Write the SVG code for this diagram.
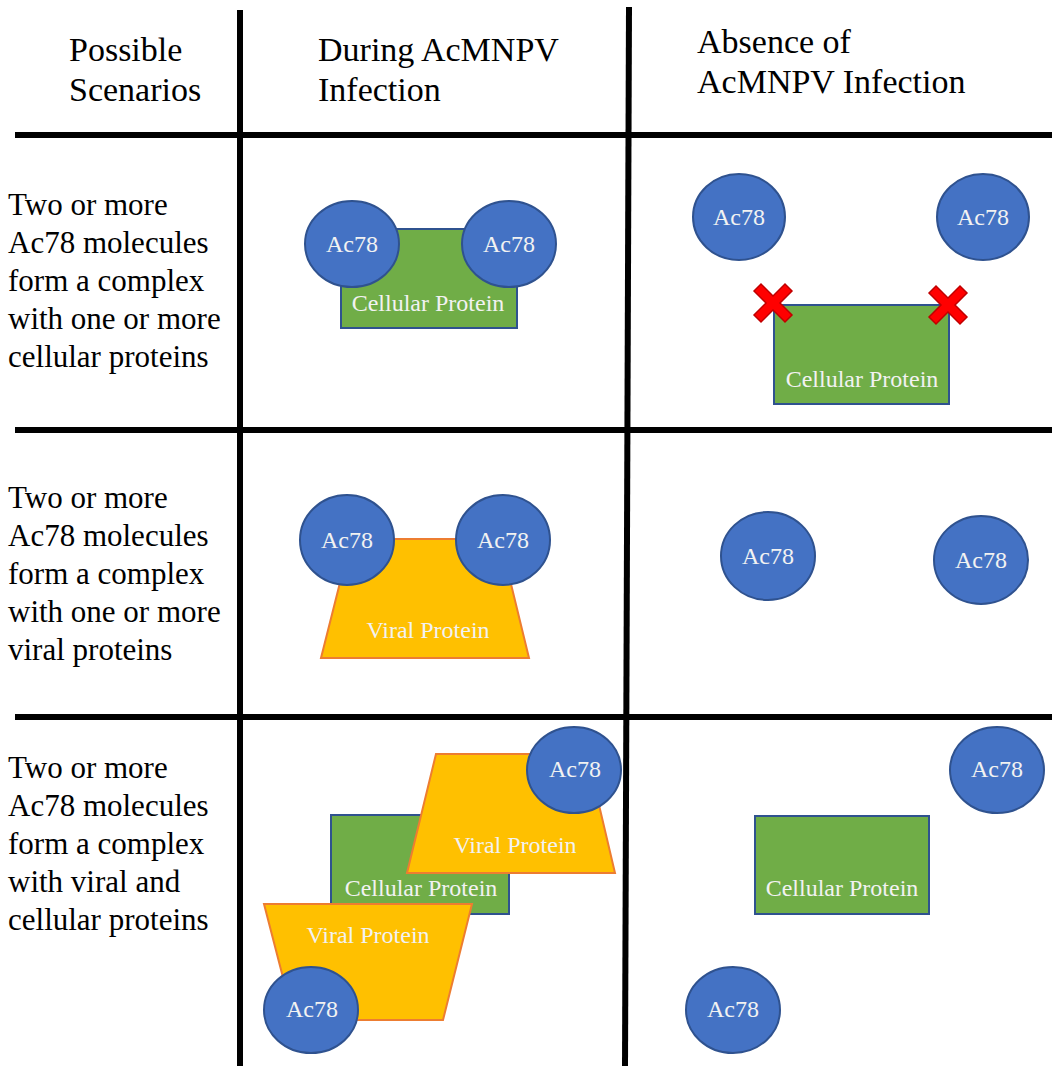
<svg xmlns="http://www.w3.org/2000/svg" width="1052" height="1066" viewBox="0 0 1052 1066" font-family="Liberation Serif, Times New Roman, serif">
<style>
.hdr{font-size:34px;fill:#000}
.lbl{font-size:31px;fill:#000}
.grid{stroke:#000;stroke-width:6;fill:none}
.ac{fill:#4472C4;stroke:#2F528F;stroke-width:2}
.cell{fill:#70AD47;stroke:#2F528F;stroke-width:2}
.viral{fill:#FFC000;stroke:#ED7D31;stroke-width:2}
.in{font-size:24px;fill:#F2F2F2;text-anchor:middle}
.xmark{fill:#FF0000;stroke:#C00000;stroke-width:1.5}
</style>
<defs>
<polygon id="x" points="-19,-12 -12,-19 0,-7 12,-19 19,-12 7,0 19,12 12,19 0,7 -12,19 -19,12 -7,0"/>
</defs>
<rect width="1052" height="1066" fill="#fff"/>
<g id="connectors">
<line class="grid" x1="15" y1="135" x2="1052" y2="135"/>
<line class="grid" x1="15" y1="430" x2="1052" y2="430"/>
<line class="grid" x1="15" y1="717" x2="1052" y2="717"/>
<line class="grid" x1="240" y1="10" x2="240" y2="1066"/>
<line class="grid" x1="629" y1="7" x2="625" y2="1066"/>
</g>
<g id="headers">
<text class="hdr" x="69" y="61" font-family="Liberation Serif">Possible</text>
<text class="hdr" x="69" y="101" font-family="Liberation Serif">Scenarios</text>
<text class="hdr" x="318" y="61" font-family="Liberation Serif">During AcMNPV</text>
<text class="hdr" x="318" y="101" font-family="Liberation Serif">Infection</text>
<text class="hdr" x="697" y="53" font-family="Liberation Serif">Absence of</text>
<text class="hdr" x="697" y="93" font-family="Liberation Serif">AcMNPV Infection</text>
</g>
<g id="row1-label">
<text class="lbl" x="8" y="215">Two or more</text>
<text class="lbl" x="8" y="253">Ac78 molecules</text>
<text class="lbl" x="8" y="291">form a complex</text>
<text class="lbl" x="8" y="329">with one or more</text>
<text class="lbl" x="8" y="367">cellular proteins</text>
</g>
<g id="row2-label">
<text class="lbl" x="8" y="508">Two or more</text>
<text class="lbl" x="8" y="546">Ac78 molecules</text>
<text class="lbl" x="8" y="584">form a complex</text>
<text class="lbl" x="8" y="622">with one or more</text>
<text class="lbl" x="8" y="660">viral proteins</text>
</g>
<g id="row3-label">
<text class="lbl" x="8" y="778">Two or more</text>
<text class="lbl" x="8" y="816">Ac78 molecules</text>
<text class="lbl" x="8" y="854">form a complex</text>
<text class="lbl" x="8" y="892">with viral and</text>
<text class="lbl" x="8" y="930">cellular proteins</text>
</g>
<g id="r1-during">
<rect class="cell" x="341" y="229" width="176" height="99"/>
<text class="in" x="428" y="311">Cellular Protein</text>
<ellipse class="ac" cx="352" cy="244" rx="47" ry="43"/>
<text class="in" x="352" y="252">Ac78</text>
<ellipse class="ac" cx="509" cy="244" rx="47" ry="43"/>
<text class="in" x="509" y="252">Ac78</text>
</g>
<g id="r1-absence">
<ellipse class="ac" cx="739" cy="217" rx="46" ry="43"/>
<text class="in" x="739" y="225">Ac78</text>
<ellipse class="ac" cx="983" cy="217" rx="46" ry="43"/>
<text class="in" x="983" y="225">Ac78</text>
<rect class="cell" x="774" y="305" width="175" height="99"/>
<text class="in" x="862" y="387">Cellular Protein</text>
<use href="#x" class="xmark" x="773" y="303"/>
<use href="#x" class="xmark" x="948" y="305"/>
</g>
<g id="r2-during">
<polygon class="viral" points="351,539 500,539 529,658 321,658"/>
<text class="in" x="428" y="638">Viral Protein</text>
<ellipse class="ac" cx="347" cy="540" rx="47" ry="45"/>
<text class="in" x="347" y="548">Ac78</text>
<ellipse class="ac" cx="503" cy="540" rx="47" ry="45"/>
<text class="in" x="503" y="548">Ac78</text>
</g>
<g id="r2-absence">
<ellipse class="ac" cx="768" cy="556" rx="47" ry="44"/>
<text class="in" x="768" y="564">Ac78</text>
<ellipse class="ac" cx="981" cy="560" rx="47" ry="44"/>
<text class="in" x="981" y="568">Ac78</text>
</g>
<g id="r3-during">
<rect class="cell" x="331" y="815" width="178" height="99"/>
<text class="in" x="421" y="896">Cellular Protein</text>
<polygon class="viral" points="436,754 587,754 615,873 407,873"/>
<text class="in" x="515" y="853">Viral Protein</text>
<ellipse class="ac" cx="574" cy="770" rx="47" ry="43"/>
<text class="in" x="575" y="777">Ac78</text>
<polygon class="viral" points="264,904 472,904 443,1020 294,1020"/>
<text class="in" x="368" y="943">Viral Protein</text>
<ellipse class="ac" cx="311" cy="1010" rx="47" ry="43"/>
<text class="in" x="312" y="1017">Ac78</text>
</g>
<g id="r3-absence">
<ellipse class="ac" cx="997" cy="770" rx="47" ry="43"/>
<text class="in" x="997" y="777">Ac78</text>
<rect class="cell" x="755" y="816" width="174" height="98"/>
<text class="in" x="842" y="896">Cellular Protein</text>
<ellipse class="ac" cx="733" cy="1010" rx="47" ry="43"/>
<text class="in" x="733" y="1017">Ac78</text>
</g>
</svg>
